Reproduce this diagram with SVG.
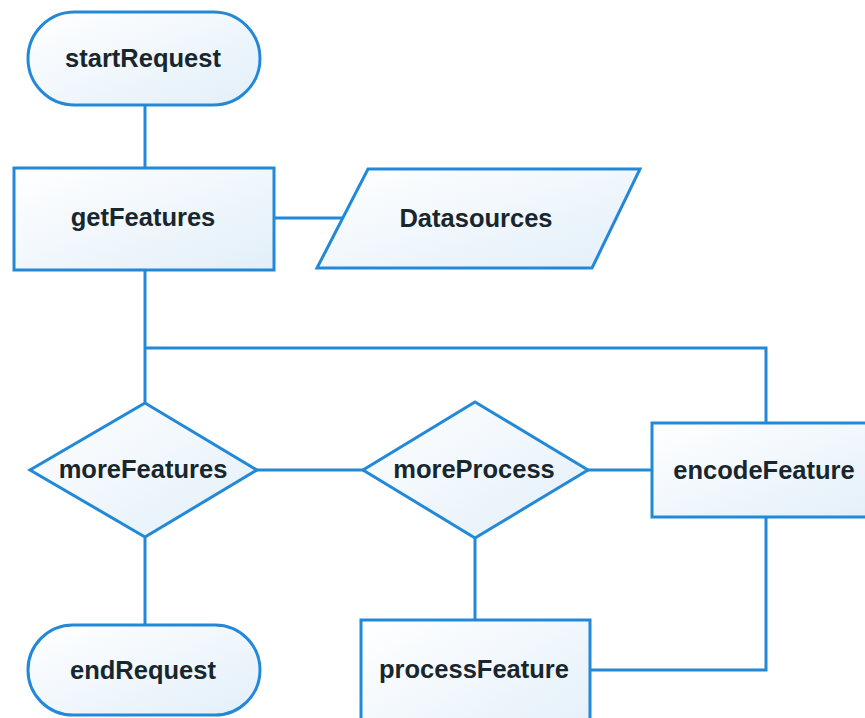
<svg xmlns="http://www.w3.org/2000/svg" width="865" height="718" viewBox="0 0 865 718">
<defs>
<linearGradient id="g" x1="0" y1="0" x2="1" y2="1">
<stop offset="0" stop-color="#ffffff"/>
<stop offset="1" stop-color="#e2eff9"/>
</linearGradient>
<style>
.s{fill:url(#g);stroke:#2289d8;stroke-width:3}
.c{fill:none;stroke:#2289d8;stroke-width:3}
.t{font-family:"Liberation Sans",Arial,sans-serif;font-weight:bold;font-size:25.5px;fill:#18262e;text-anchor:middle;dominant-baseline:central}
</style>
</defs>
<rect width="865" height="718" fill="#ffffff"/>
<g id="connectors">
<line class="c" x1="145" y1="105" x2="145" y2="168"/>
<line class="c" x1="274" y1="218" x2="343" y2="218"/>
<polyline class="c" points="145,270 145,403"/>
<polyline class="c" points="145,348 766,348 766,423"/>
<line class="c" x1="257" y1="470" x2="363" y2="470"/>
<line class="c" x1="588" y1="470" x2="652" y2="470"/>
<line class="c" x1="145" y1="537" x2="145" y2="625"/>
<line class="c" x1="475" y1="538" x2="475" y2="620"/>
<polyline class="c" points="590,670 766,670 766,517"/>
</g>
<g id="startRequest">
<rect class="s" x="28" y="12" width="232" height="93" rx="46.5"/>
<text class="t" x="143" y="58">startRequest</text>
</g>
<g id="getFeatures">
<rect class="s" x="14" y="168" width="260" height="102"/>
<text class="t" x="143" y="217">getFeatures</text>
</g>
<g id="Datasources">
<polygon class="s" points="368,169 640,169 592,268 317,268"/>
<text class="t" x="476" y="218">Datasources</text>
</g>
<g id="moreFeatures">
<polygon class="s" points="145,403 257,470 145,537 30,470"/>
<text class="t" x="143" y="469">moreFeatures</text>
</g>
<g id="moreProcess">
<polygon class="s" points="475,402 588,470 475,538 363,470"/>
<text class="t" x="474" y="469">moreProcess</text>
</g>
<g id="encodeFeature">
<rect class="s" x="652" y="423" width="240" height="94"/>
<text class="t" x="764" y="470">encodeFeature</text>
</g>
<g id="processFeature">
<rect class="s" x="361" y="620" width="229" height="130"/>
<text class="t" x="474" y="669">processFeature</text>
</g>
<g id="endRequest">
<rect class="s" x="28" y="625" width="232" height="90" rx="45"/>
<text class="t" x="143" y="670">endRequest</text>
</g>
</svg>
